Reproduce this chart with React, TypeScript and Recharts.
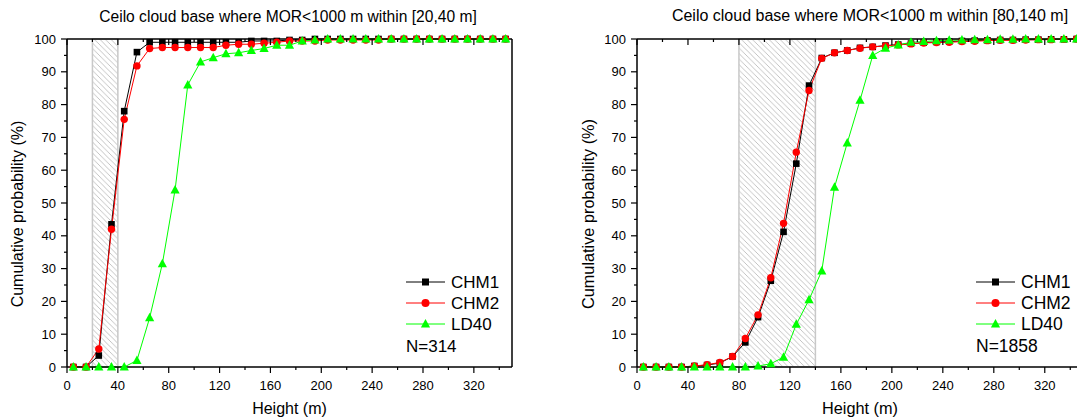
import React from "react";
import { LineChart, Line, XAxis, YAxis, ReferenceArea } from "recharts";

// bin centres (m)
const heights = [
  5, 15, 25, 35, 45, 55, 65, 75, 85, 95, 105, 115, 125, 135, 145, 155, 165, 175,
  185, 195, 205, 215, 225, 235, 245, 255, 265, 275, 285, 295, 305, 315, 325, 335, 345,
];
const xTicks = [0, 20, 40, 60, 80, 100, 120, 140, 160, 180, 200, 220, 240, 260, 280, 300, 320, 340];
const yTicks = [0, 5, 10, 15, 20, 25, 30, 35, 40, 45, 50, 55, 60, 65, 70, 75, 80, 85, 90, 95, 100];

// [20,40 m] case, N=314
const leftChm1 = [
  0, 0, 3.5, 43.5, 78.0, 96.0, 99.0, 99.0, 99.0, 99.0, 99.0, 99.0, 99.0, 99.0, 99.4, 99.4, 99.4, 99.7,
  99.7, 100, 100, 100, 100, 100, 100, 100, 100, 100, 100, 100, 100, 100, 100, 100, 100,
];
const leftChm2 = [
  0, 0, 5.5, 42.0, 75.5, 91.8, 97.1, 97.4, 97.4, 97.4, 97.4, 97.4, 98.1, 98.4, 98.4, 98.7, 99.0, 99.4,
  99.4, 99.4, 99.7, 99.7, 99.7, 99.7, 99.7, 100, 100, 100, 100, 100, 100, 100, 100, 100, 100,
];
const leftLd40 = [
  0, 0, 0, 0, 0, 2.0, 15.0, 31.5, 54.0, 86.0, 93.0, 94.3, 95.5, 95.8, 96.5, 97.1, 98.1, 98.1,
  99.4, 99.7, 100, 100, 100, 100, 100, 100, 100, 100, 100, 100, 100, 100, 100, 100, 100,
];

// [80,140 m] case, N=1858
const rightChm1 = [
  0, 0, 0, 0, 0.3, 0.6, 1.2, 3.2, 7.5, 15.2, 26.3, 41.2, 62.0, 85.8, 94.2, 95.8, 96.5, 97.3,
  97.6, 98.0, 98.3, 98.6, 98.9, 99.1, 99.2, 99.4, 99.5, 99.6, 99.7, 99.7, 99.8, 99.8, 99.9, 99.9, 100,
];
const rightChm2 = [
  0, 0, 0, 0, 0.3, 0.7, 1.4, 3.2, 8.7, 15.9, 27.2, 43.8, 65.5, 84.3, 94.1, 95.8, 96.5, 97.2,
  97.6, 97.9, 98.2, 98.5, 98.8, 98.9, 99.0, 99.2, 99.3, 99.5, 99.6, 99.6, 99.7, 99.8, 99.8, 99.9, 100,
];
const rightLd40 = [
  0, 0, 0, 0, 0, 0, 0, 0, 0, 0.3, 1.0, 3.0, 13.0, 20.5, 29.3, 54.8, 68.3, 81.3,
  95.0, 97.2, 98.2, 99.0, 99.2, 99.5, 99.6, 99.7, 99.8, 99.8, 99.9, 99.9, 100, 100, 100, 100, 100,
];

const FONT = '"Liberation Sans", Arial, Helvetica, sans-serif';
const GREEN = "#00ff00";

function rows(a: number[], b: number[], c: number[]) {
  return heights.map((h, i) => ({ h, chm1: a[i], chm2: b[i], ld40: c[i] }));
}

const squareDot = (p: any) =>
  p.cx == null ? null : (
    <rect key={`s${p.index}`} x={p.cx - 3.3} y={p.cy - 3.3} width={6.6} height={6.6} fill="#000" />
  );
const circleDot = (p: any) =>
  p.cx == null ? null : <circle key={`c${p.index}`} cx={p.cx} cy={p.cy} r={3.7} fill="#ff0000" />;
const triDot = (p: any) =>
  p.cx == null ? null : (
    <path
      key={`t${p.index}`}
      d={`M${p.cx},${p.cy - 5} L${p.cx + 4.6},${p.cy + 3.5} L${p.cx - 4.6},${p.cy + 3.5} Z`}
      fill={GREEN}
    />
  );

const axisLine = { stroke: "#000", strokeWidth: 1.5 };

interface ChartProps {
  left: number;
  width: number;
  marginLeft: number;
  data: any[];
  band: [number, number];
  fs: number;
  labelFs: number;
  id: string;
}

function CdfChart({ left, width, marginLeft, data, band, fs, labelFs, id }: ChartProps) {
  const bottomTick = (p: any) => {
    const major = p.payload.value % 40 === 0;
    return (
      <g>
        <line x1={p.x} x2={p.x} y1={p.y} y2={p.y + (major ? 6 : 3)} stroke="#000" strokeWidth={1.2} />
        {major && (
          <text x={p.x} y={p.y + 18} textAnchor="middle" dominantBaseline="central" fontSize={fs} fill="#000">
            {p.payload.value}
          </text>
        )}
      </g>
    );
  };
  const topTick = (p: any) => {
    const major = p.payload.value % 40 === 0;
    return <line x1={p.x} x2={p.x} y1={p.y} y2={p.y + (major ? 6 : 3)} stroke="#000" strokeWidth={1.2} />;
  };
  const leftTick = (p: any) => {
    const major = p.payload.value % 10 === 0;
    return (
      <g>
        <line x1={p.x - (major ? 6 : 3)} x2={p.x} y1={p.y} y2={p.y} stroke="#000" strokeWidth={1.2} />
        {major && (
          <text x={p.x - 11} y={p.y} textAnchor="end" dominantBaseline="central" fontSize={fs} fill="#000">
            {p.payload.value}
          </text>
        )}
      </g>
    );
  };
  const rightTick = (p: any) => {
    const major = p.payload.value % 10 === 0;
    return <line x1={p.x - (major ? 6 : 4)} x2={p.x} y1={p.y} y2={p.y} stroke="#000" strokeWidth={1.2} />;
  };
  const xLabel = (p: any) => {
    const vb = p.viewBox;
    return (
      <text x={vb.x + vb.width / 2} y={vb.y + 41} textAnchor="middle" dominantBaseline="central" fontSize={labelFs} fill="#000">
        Height (m)
      </text>
    );
  };
  const yLabel = (p: any) => {
    const vb = p.viewBox;
    const cx = vb.x + 5.5;
    const cy = vb.y + vb.height / 2 + 11;
    return (
      <text
        x={cx}
        y={cy}
        transform={`rotate(-90, ${cx}, ${cy})`}
        textAnchor="middle"
        dominantBaseline="central"
        fontSize={labelFs}
        fill="#000"
      >
        Cumulative probability (%)
      </text>
    );
  };

  return (
    <div style={{ position: "absolute", left, top: 0 }}>
      <LineChart
        width={width}
        height={419}
        data={data}
        margin={{ top: 38, right: 43, bottom: 0, left: marginLeft }}
        style={{ fontFamily: FONT }}
      >
        <defs>
          <pattern id={id} patternUnits="userSpaceOnUse" width={5.5} height={5.5}>
            <rect width={5.5} height={5.5} fill="#fff" />
            <path d="M-1,-1 L6.5,6.5 M4.5,-1 L6.5,1 M-1,4.5 L1,6.5" stroke="#aaaaaa" strokeWidth={0.7} />
          </pattern>
        </defs>
        <XAxis
          dataKey="h"
          type="number"
          domain={[0, 350]}
          ticks={xTicks}
          interval={0}
          height={52}
          tickSize={0}
          tickMargin={0}
          tickLine={false}
          axisLine={axisLine}
          tick={bottomTick}
          label={xLabel}
        />
        <XAxis
          xAxisId="top"
          orientation="top"
          dataKey="h"
          type="number"
          domain={[0, 350]}
          ticks={xTicks}
          interval={0}
          height={1}
          tickSize={0}
          tickMargin={0}
          tickLine={false}
          axisLine={axisLine}
          tick={topTick}
        />
        <YAxis
          type="number"
          domain={[0, 100]}
          ticks={yTicks}
          interval={0}
          width={55}
          tickSize={0}
          tickMargin={0}
          tickLine={false}
          axisLine={axisLine}
          tick={leftTick}
          label={yLabel}
        />
        <YAxis
          yAxisId="right"
          orientation="right"
          type="number"
          domain={[0, 100]}
          ticks={yTicks}
          interval={0}
          width={1}
          tickSize={0}
          tickMargin={0}
          tickLine={false}
          axisLine={axisLine}
          tick={rightTick}
        />
        <ReferenceArea
          x1={band[0]}
          x2={band[1]}
          y1={0}
          y2={100}
          fill={`url(#${id})`}
          fillOpacity={1}
          stroke="#c8c8c8"
          strokeWidth={1.5}
        />
        <Line dataKey="chm1" stroke="#000" strokeWidth={1} dot={squareDot} activeDot={false} isAnimationActive={false} />
        <Line dataKey="chm2" stroke="#ff0000" strokeWidth={1} dot={circleDot} activeDot={false} isAnimationActive={false} />
        <Line dataKey="ld40" stroke={GREEN} strokeWidth={1} dot={triDot} activeDot={false} isAnimationActive={false} />
      </LineChart>
    </div>
  );
}

function LegendBox({ left, top, fs, note }: { left: number; top: number; fs: number; note: string }) {
  const items = [
    { name: "CHM1", color: "#000", shape: "square" },
    { name: "CHM2", color: "#ff0000", shape: "circle" },
    { name: "LD40", color: GREEN, shape: "tri" },
  ];
  return (
    <svg style={{ position: "absolute", left, top, fontFamily: FONT }} width={110} height={90}>
      {items.map((it, i) => {
        const cy = 12 + i * 21;
        return (
          <g key={it.name}>
            <line x1={6} x2={45} y1={cy} y2={cy} stroke={it.color} strokeWidth={1} />
            {it.shape === "square" && <rect x={22} y={cy - 3.5} width={7} height={7} fill="#000" />}
            {it.shape === "circle" && <circle cx={25.5} cy={cy} r={4} fill="#ff0000" />}
            {it.shape === "tri" && (
              <path d={`M25.5,${cy - 5} L30.1,${cy + 3.5} L20.9,${cy + 3.5} Z`} fill={GREEN} />
            )}
            <text x={51} y={cy} dominantBaseline="central" fontSize={fs} fill="#000">
              {it.name}
            </text>
          </g>
        );
      })}
      <text x={6} y={76} dominantBaseline="central" fontSize={fs} fill="#000">
        {note}
      </text>
    </svg>
  );
}

export default function App() {
  const leftData = rows(leftChm1, leftChm2, leftLd40);
  const rightData = rows(rightChm1, rightChm2, rightLd40);
  return (
    <div style={{ height: 403 }}>
      <div
        style={{
          position: "fixed",
          left: 0,
          top: 0,
          width: 1077,
          height: 419,
          overflow: "hidden",
          background: "#fff",
          fontFamily: FONT,
        }}
      >
        <div
          style={{ position: "absolute", left: 0, top: 7, width: 576, lineHeight: "20px", fontSize: 15.6, textAlign: "center" }}
        >
          Ceilo cloud base where MOR&lt;1000 m within [20,40 m]
        </div>
        <div
          style={{ position: "absolute", left: 570, top: 6, width: 600, lineHeight: "20px", fontSize: 16, textAlign: "center" }}
        >
          Ceilo cloud base where MOR&lt;1000 m within [80,140 m]
        </div>
        <CdfChart
          left={0}
          width={556}
          marginLeft={12}
          data={leftData}
          band={[20, 40]}
          fs={13}
          labelFs={16}
          id="hatchLeft"
        />
        <CdfChart
          left={570}
          width={557}
          marginLeft={12}
          data={rightData}
          band={[80, 140]}
          fs={13}
          labelFs={16.3}
          id="hatchRight"
        />
        <LegendBox left={400} top={270} fs={17} note="N=314" />
        <LegendBox left={970} top={270} fs={17.5} note="N=1858" />
      </div>
    </div>
  );
}
